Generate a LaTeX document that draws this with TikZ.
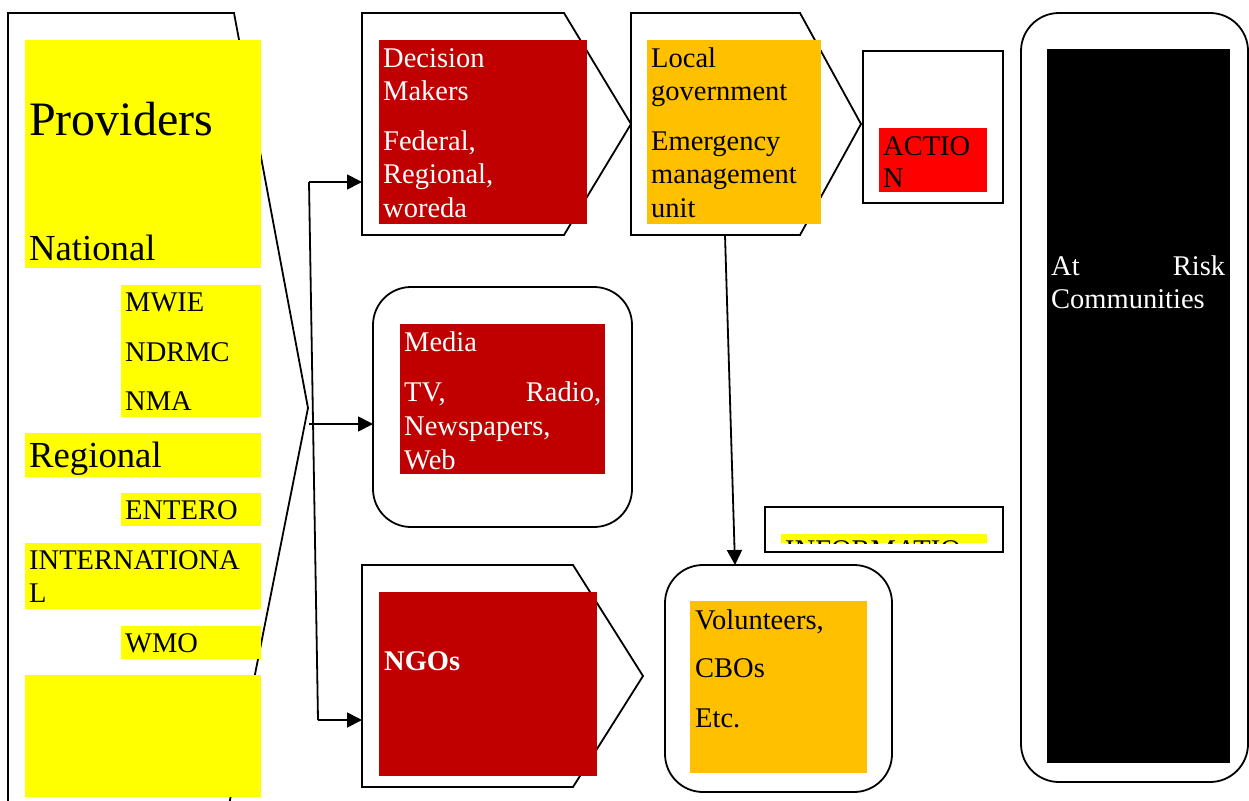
\documentclass[tikz,border=0pt]{standalone}
\usepackage{fontspec}
\setmainfont{Liberation Serif}
\usetikzlibrary{arrows.meta}
\definecolor{dred}{HTML}{C00000}
\definecolor{orng}{HTML}{FFC000}
\definecolor{ylw}{HTML}{FFFF00}
\definecolor{rd}{HTML}{FF0000}
\begin{document}
\begin{tikzpicture}[x=1pt,y=-1pt,
  outline/.style={draw=black,line width=1.8pt,fill=white,line join=miter},
  rbox/.style={draw=black,line width=1.8pt,fill=white,rounded corners=38pt},
  conn/.style={draw=black,line width=1.8pt,-{Triangle[length=15pt,width=15pt]}},
  plain/.style={draw=black,line width=1.8pt},
  txt/.style={anchor=base west,inner sep=0pt,font=\fontsize{28.5}{33}\selectfont},
  bigtxt/.style={anchor=base west,inner sep=0pt,font=\fontsize{36.7}{40}\selectfont},
  hugetxt/.style={anchor=base west,inner sep=0pt,font=\fontsize{48}{52}\selectfont}]
\useasboundingbox (0,0) rectangle (1249,800);
\clip (0,0) rectangle (1249,800);
\fill[white] (0,0) rectangle (1249,800);

% ---------- outlines ----------
\draw[outline] (8,810) -- (8,13) -- (234,13) -- (308,408) -- (228,810);
\draw[outline] (362,13) -- (564,13) -- (631,124) -- (564,235) -- (362,235) -- cycle;
\draw[outline] (631,13) -- (800,13) -- (861,124) -- (800,235) -- (631,235) -- cycle;
\draw[outline] (863,51) rectangle (1003,203);
\draw[rbox] (1021,13) rectangle (1248,782);
\draw[rbox] (373,287) rectangle (632,527);
\draw[outline] (765,507) rectangle (1003,552);
\draw[outline] (362,565) -- (573,565) -- (643,676) -- (573,787) -- (362,787) -- cycle;
\draw[rbox] (665,565) rectangle (892,792);

% ---------- connector points ----------
\coordinate (trunkTop) at (309,182);
\coordinate (trunkBot) at (318,720);
\coordinate (dmIn) at (362,182);
\coordinate (midStart) at (309,424);
\coordinate (mediaIn) at (373,424);
\coordinate (ngoIn) at (362,720);
\coordinate (lgOut) at (725,235);
\coordinate (volIn) at (735,565);

\draw[plain] (trunkBot) -- (trunkTop);
\draw[conn] (trunkTop) -- (dmIn);
\draw[conn] (midStart) -- (mediaIn);
\draw[conn] (trunkBot) -- (ngoIn);
\draw[conn] (lgOut) -- (volIn);

% ---------- left column ----------
\fill[ylw] (25,40) rectangle (261,268);
\fill[ylw] (121,285) rectangle (261,417);
\fill[ylw] (25,433) rectangle (261,477);
\fill[ylw] (121,493) rectangle (261,526);
\fill[ylw] (25,543) rectangle (261,609);
\fill[ylw] (121,626) rectangle (261,659);
\fill[ylw] (25,675) rectangle (261,797);
\node[hugetxt] (prov) at (29,135) {Providers};
\node[bigtxt] (nat) at (29,260) {National};
\node[txt] (mwie) at (125,311) {MWIE};
\node[txt] (ndrmc) at (125,361) {NDRMC};
\node[txt] (nma) at (125,410) {NMA};
\node[bigtxt] (reg) at (29,467) {Regional};
\node[txt] (entero) at (125,519) {ENTERO};
\node[txt] (intl1) at (29,569) {INTERNATIONA};
\node[txt] (intl2) at (29,602) {L};
\node[txt] (wmo) at (125,652) {WMO};

% ---------- decision makers ----------
\fill[dred] (379,40) rectangle (587,224);
\begin{scope}[every node/.append style={text=white}]
\node[txt] (dm1) at (383,67) {Decision};
\node[txt] (dm2) at (383,100) {Makers};
\node[txt] (dm3) at (383,150) {Federal,};
\node[txt] (dm4) at (383,183) {Regional,};
\node[txt] (dm5) at (383,217) {woreda};
\end{scope}

% ---------- local government ----------
\fill[orng] (647,40) rectangle (821,224);
\node[txt] (lg1) at (651,67) {Local};
\node[txt] (lg2) at (651,100) {government};
\node[txt] (lg3) at (651,150) {Emergency};
\node[txt] (lg4) at (651,183) {management};
\node[txt] (lg5) at (651,217) {unit};

% ---------- action ----------
\fill[rd] (879,128) rectangle (987,192);
\node[txt] (act1) at (883,155) {ACTIO};
\node[txt] (act2) at (883,187) {N};

% ---------- at risk ----------
\fill[black] (1047,49) rectangle (1230,763);
\node[txt,text=white,text width=174pt] (risk1) at (1051,275) {At\hfill Risk};
\node[txt,text=white] (risk2) at (1051,308) {Communities};

% ---------- media ----------
\fill[dred] (400,324) rectangle (605,474);
\begin{scope}[every node/.append style={text=white}]
\node[txt] (med1) at (404,351) {Media};
\node[txt,text width=197pt] (med2) at (404,401) {TV,\hfill Radio,};
\node[txt] (med3) at (404,435) {Newspapers,};
\node[txt] (med4) at (404,469) {Web};
\end{scope}

% ---------- information ----------
\begin{scope}
\clip (781,534) rectangle (987,543);
\fill[ylw] (781,534) rectangle (987,543);
\node[txt] (info) at (785,559) {INFORMATIO};
\end{scope}

% ---------- NGOs ----------
\fill[dred] (379,592) rectangle (597,776);
\node[txt,text=white,font=\fontsize{28.5}{33}\selectfont\bfseries] (ngo) at (384,670) {NGOs};

% ---------- volunteers ----------
\fill[orng] (690,601) rectangle (867,773);
\node[txt] (vol1) at (695,629) {Volunteers,};
\node[txt] (vol2) at (695,677) {CBOs};
\node[txt] (vol3) at (695,727) {Etc.};
\end{tikzpicture}
\end{document}
